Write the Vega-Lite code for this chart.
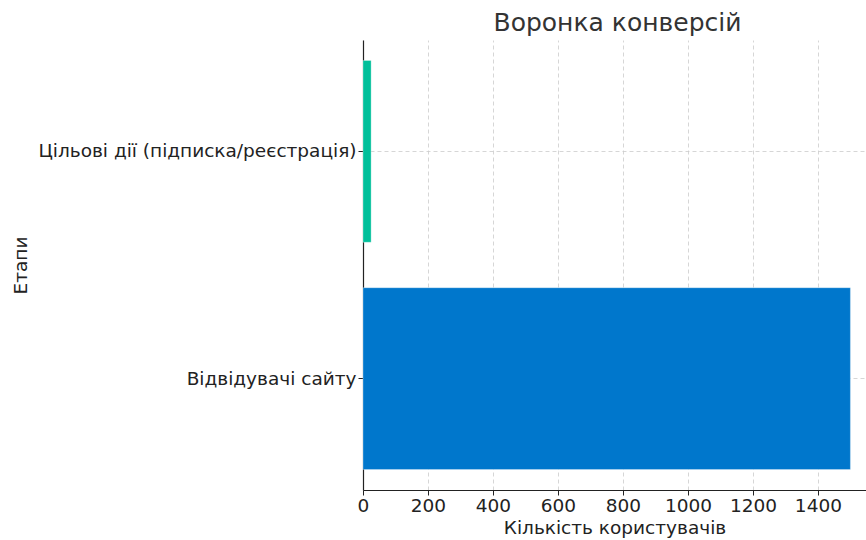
{
  "$schema": "https://vega.github.io/schema/vega-lite/v6.json",
  "autosize": "none",
  "width": 503,
  "height": 450,
  "padding": {"left": 363, "top": 40, "right": 0, "bottom": 50},
  "background": "white",
  "title": {"text": "Воронка конверсій", "font": "DejaVu Sans", "fontSize": 25, "fontWeight": "normal", "color": "#333333", "anchor": "middle", "offset": 4, "dx": 3},
  "config": {"view": {"stroke": null}},
  "data": {"values": [
    {"stage": "Відвідувачі сайту", "count": 1500, "color": "#0077cc"},
    {"stage": "Цільові дії (підписка/реєстрація)", "count": 25, "color": "#00bf9a"}
  ]},
  "mark": {"type": "bar", "stroke": "white", "strokeWidth": 0.5, "strokeOpacity": 0.6},
  "encoding": {
    "y": {"field": "stage", "type": "nominal", "sort": ["Цільові дії (підписка/реєстрація)", "Відвідувачі сайту"],
      "scale": {"paddingInner": 0.2, "paddingOuter": 0.09},
      "axis": {"title": "Етапи", "titleFont": "DejaVu Sans", "titleFontSize": 18.5, "titleFontWeight": "normal", "titleColor": "#222", "titleX": -343, "titleY": 225, "titleAngle": -90, "titleBaseline": "middle", "titleAlign": "center",
        "labelFont": "DejaVu Sans", "labelFontSize": 18.5, "labelColor": "#222", "labelPadding": 2, "labelLimit": 400,
        "domainColor": "#222", "domainWidth": 1.2, "tickColor": "#222", "tickSize": 5,
        "grid": true, "bandPosition": 0.5, "gridColor": "#cccccc", "gridDash": [4, 3], "gridWidth": 0.8}},
    "x": {"field": "count", "type": "quantitative", "scale": {"domain": [0, 1548], "nice": false},
      "axis": {"title": "Кількість користувачів", "titleFont": "DejaVu Sans", "titleFontSize": 18.5, "titleFontWeight": "normal", "titleColor": "#222", "titlePadding": 4,
        "values": [0, 200, 400, 600, 800, 1000, 1200, 1400], "format": "d",
        "labelFont": "DejaVu Sans", "labelFontSize": 18.5, "labelColor": "#222", "labelPadding": 1, "labelFlush": false,
        "domainColor": "#222", "domainWidth": 1.2, "tickColor": "#222", "tickSize": 5,
        "grid": true, "gridColor": "#cccccc", "gridDash": [4, 3], "gridWidth": 0.8}},
    "color": {"field": "color", "type": "nominal", "scale": null, "legend": null}
  }
}
